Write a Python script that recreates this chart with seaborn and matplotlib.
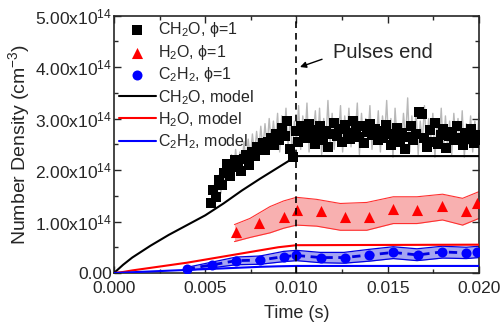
import numpy as np
import matplotlib
matplotlib.use("Agg")
import matplotlib.pyplot as plt
import seaborn as sns

sns.set_style("ticks")
plt.rcParams['font.family'] = ['Liberation Sans', 'DejaVu Sans']
plt.rcParams['mathtext.fontset'] = 'custom'
plt.rcParams['mathtext.rm'] = 'Liberation Sans'
plt.rcParams['mathtext.default'] = 'regular'

E14 = 1e14

# model curves (time in s, density in 1e14 cm^-3)
model_t = [0.0, 0.0005, 0.001, 0.002, 0.003, 0.004, 0.005, 0.006, 0.007, 0.008, 0.009, 0.010, 0.020]
ch2o_model = [0.0, 0.16, 0.30, 0.53, 0.74, 0.93, 1.12, 1.35, 1.60, 1.83, 2.05, 2.27, 2.27]
h2o_model = [0.0, 0.02, 0.05, 0.10, 0.15, 0.20, 0.26, 0.32, 0.38, 0.44, 0.50, 0.54, 0.55]
c2h2_model = [0.0, 0.007, 0.015, 0.03, 0.045, 0.06, 0.075, 0.09, 0.105, 0.12, 0.13, 0.137, 0.137]

# CH2O measurement (squares), evenly sampled from 5.3 ms to 20 ms
ch2o_vals = [1.35, 1.62, 1.48, 1.80, 1.70, 1.95, 2.12, 1.88, 2.05, 2.20, 2.15, 1.98,
             2.22, 2.30, 2.10, 2.35, 2.28, 2.45, 2.40, 2.52, 2.38, 2.55, 2.62, 2.48,
             2.70, 2.58, 2.82, 2.66, 2.95, 2.40, 2.25, 2.75, 2.55, 2.85, 2.70,
             2.62, 2.90, 2.78, 2.50, 2.68, 2.85, 2.58, 2.75, 2.45, 2.70, 2.92, 2.66,
             2.80, 2.55, 2.88, 2.72, 2.60, 2.95, 2.78, 2.65, 2.85, 2.52, 2.74, 2.90,
             2.68, 2.80, 2.58, 2.76, 2.62, 2.88, 2.70, 2.48, 2.66, 2.82, 2.55, 2.72,
             2.40, 2.64, 2.86, 2.58, 2.70, 3.12, 3.08, 2.62, 2.45, 2.78, 2.55, 2.92,
             2.50, 2.68, 2.80, 2.42, 2.66, 2.74, 2.58, 2.85, 2.62, 2.48, 2.72, 2.60,
             2.80, 2.52, 2.68, 2.58]
ch2o_t = np.linspace(0.0053, 0.0200, len(ch2o_vals))

# raw CH2O trace (grey)
raw_vals = [1.30, 1.75, 1.40, 1.90, 1.55, 2.05, 1.70, 2.20, 1.85, 2.30, 1.95, 2.40, 2.00,
            2.35, 2.10, 2.55, 2.15, 2.60, 2.25, 2.70, 2.30, 2.75, 2.35, 2.85, 2.40, 2.90,
            2.45, 3.00, 2.50, 2.95, 2.55, 3.10, 2.35, 3.05, 2.60, 3.20, 2.45, 3.00, 2.30,
            2.95, 2.55, 3.25, 2.40, 3.05, 2.60, 3.30, 2.35, 2.95, 2.70, 3.15, 2.45, 3.20,
            2.30, 3.00, 2.55, 3.35, 2.50, 3.10, 2.40, 2.90, 2.65, 3.25, 2.35, 3.05, 2.55,
            3.20, 2.45, 2.95, 2.70, 3.30, 2.30, 3.10, 2.50, 3.00, 2.60, 3.25, 2.40, 2.95,
            2.55, 3.15, 2.35, 3.05, 2.65, 3.35, 2.45, 3.00, 2.25, 3.20, 2.55, 2.90, 2.40,
            3.10, 2.60, 3.40, 2.35, 3.05, 2.50, 3.15, 2.30, 2.95, 2.55, 3.25, 2.40, 3.00,
            2.60, 3.10, 2.25, 2.90, 2.50, 3.20, 2.35, 3.05, 2.45, 2.95, 2.30, 3.10, 2.55,
            3.00, 2.40, 3.15, 2.25, 2.90, 2.50, 3.05, 2.35, 2.95, 2.45, 3.10]
raw_t = np.linspace(0.0054, 0.0200, len(raw_vals))

# H2O measurement (triangles) and band
h2o_t = [0.00668, 0.00796, 0.00933, 0.01001, 0.01133, 0.01264, 0.01399, 0.01530,
         0.01662, 0.01797, 0.01929, 0.01987]
h2o_vals = [0.80, 0.965, 1.09, 1.22, 1.21, 1.09, 1.08, 1.24, 1.22, 1.30, 1.21, 1.35]
h2o_band_t = [0.0066, 0.00745, 0.00855, 0.0093, 0.0100, 0.0111, 0.0124, 0.01385,
              0.0153, 0.0166, 0.0180, 0.0191, 0.0200]
h2o_lo = [0.61, 0.69, 0.78, 0.87, 0.93, 0.91, 0.83, 0.83, 0.96, 0.96, 1.03, 0.93, 1.06]
h2o_hi = [0.94, 1.06, 1.29, 1.40, 1.47, 1.43, 1.35, 1.37, 1.48, 1.48, 1.53, 1.45, 1.58]

# C2H2 measurement (circles) and band
c2h2_t = [0.00398, 0.00535, 0.00668, 0.00800, 0.00933, 0.01000, 0.01134, 0.01264,
          0.01399, 0.01530, 0.01664, 0.01797, 0.01929, 0.01987]
c2h2_vals = [0.08, 0.155, 0.24, 0.25, 0.32, 0.34, 0.30, 0.30, 0.35, 0.40, 0.35, 0.41, 0.39, 0.41]
c2h2_band_t = [0.0040, 0.00535, 0.0067, 0.0080, 0.0093, 0.0100, 0.0113, 0.0126,
               0.0140, 0.0153, 0.0166, 0.0180, 0.0193, 0.0200]
c2h2_lo = [0.05, 0.10, 0.16, 0.17, 0.22, 0.24, 0.20, 0.19, 0.23, 0.28, 0.24, 0.29, 0.28, 0.30]
c2h2_hi = [0.11, 0.21, 0.31, 0.33, 0.42, 0.44, 0.40, 0.40, 0.46, 0.51, 0.47, 0.52, 0.50, 0.52]

fig = plt.figure(figsize=(5.02, 3.28), dpi=100)
ax = fig.add_axes([114 / 502, 1 - 273 / 328, 365 / 502, 257.5 / 328])

def sc(v):
    return np.asarray(v) * E14

# bands
ax.fill_between(h2o_band_t, sc(h2o_lo), sc(h2o_hi), color='#f8b0b0', lw=0, zorder=1)
ax.plot(h2o_band_t, sc(h2o_lo), color='#ff3030', lw=0.8, zorder=2)
ax.plot(h2o_band_t, sc(h2o_hi), color='#ff3030', lw=0.8, zorder=2)
ax.fill_between(c2h2_band_t, sc(c2h2_lo), sc(c2h2_hi), color='#a4a4f2', lw=0, zorder=1)
ax.plot(c2h2_band_t, sc(c2h2_lo), color='#0000e0', lw=0.9, zorder=2)
ax.plot(c2h2_band_t, sc(c2h2_hi), color='#0000e0', lw=0.9, zorder=2)
ax.plot(c2h2_t, sc(c2h2_vals), color='#0000e0', lw=2, ls=(0, (3, 2)), zorder=2)

# raw trace
sns.lineplot(x=raw_t, y=sc(raw_vals), color='#b8b8b8', lw=1, ax=ax, zorder=2,
             estimator=None, sort=False)

# measurements
sns.scatterplot(x=ch2o_t, y=sc(ch2o_vals), marker='s', color='black', s=62,
                linewidth=0, ax=ax, zorder=4, label='CH$_2$O, ϕ=1')
sns.scatterplot(x=h2o_t, y=sc(h2o_vals), marker='^', color='red', s=64,
                linewidth=0, ax=ax, zorder=4, label='H$_2$O, ϕ=1')
sns.scatterplot(x=c2h2_t, y=sc(c2h2_vals), marker='o', color='blue', s=52,
                linewidth=0, ax=ax, zorder=4, label='C$_2$H$_2$, ϕ=1')

# models
sns.lineplot(x=model_t, y=sc(ch2o_model), color='black', lw=1.5, ax=ax, zorder=3,
             label='CH$_2$O, model')
sns.lineplot(x=model_t, y=sc(h2o_model), color='red', lw=1.5, ax=ax, zorder=3,
             label='H$_2$O, model')
sns.lineplot(x=model_t, y=sc(c2h2_model), color='blue', lw=1.5, ax=ax, zorder=3,
             label='C$_2$H$_2$, model')

ax.axvline(0.010, color='black', ls=(0, (4, 3)), lw=1.2, zorder=5)
ax.annotate('', xy=(0.01019, 4.0 * E14), xytext=(0.01140, 4.15 * E14),
            arrowprops=dict(arrowstyle='-|>', color='black', lw=1, shrinkA=0, shrinkB=0,
                            mutation_scale=9))
ax.text(0.0120, 4.28 * E14, 'Pulses end', fontsize=14.5, va='center', ha='left')

ax.set_xlim(0, 0.020)
ax.set_ylim(0, 5 * E14)
ax.set_xticks([0.000, 0.005, 0.010, 0.015, 0.020])
ax.set_xticklabels(['0.000', '0.005', '0.010', '0.015', '0.020'])
ax.set_xticks(np.arange(0, 0.0201, 0.0025), minor=True)
yt = [0, 1, 2, 3, 4, 5]
ax.set_yticks([v * E14 for v in yt])
ax.set_yticklabels(['0.00'] + ['%d.00x10$^{14}$' % v for v in yt[1:]])
ax.set_yticks([v * 0.5 * E14 for v in range(11)], minor=True)
ax.tick_params(which='both', direction='in', top=True, right=True, labelsize=12.5,
               width=1)
ax.tick_params(axis='y', pad=1.5)
ax.tick_params(axis='x', pad=5.5)
ax.tick_params(which='major', length=5)
ax.tick_params(which='minor', length=3)
for sp in ax.spines.values():
    sp.set_linewidth(1.2)

ax.set_xlabel('Time (s)', fontsize=13, labelpad=7)
ax.set_ylabel('Number Density (cm$^{-3}$)', fontsize=14, labelpad=2)

ax.legend(loc='upper left', frameon=False, fontsize=11.5, handlelength=2.3,
          handletextpad=0.15, labelspacing=0.22, borderaxespad=0.1, borderpad=0.2)

fig.savefig('out.png', dpi=100)
